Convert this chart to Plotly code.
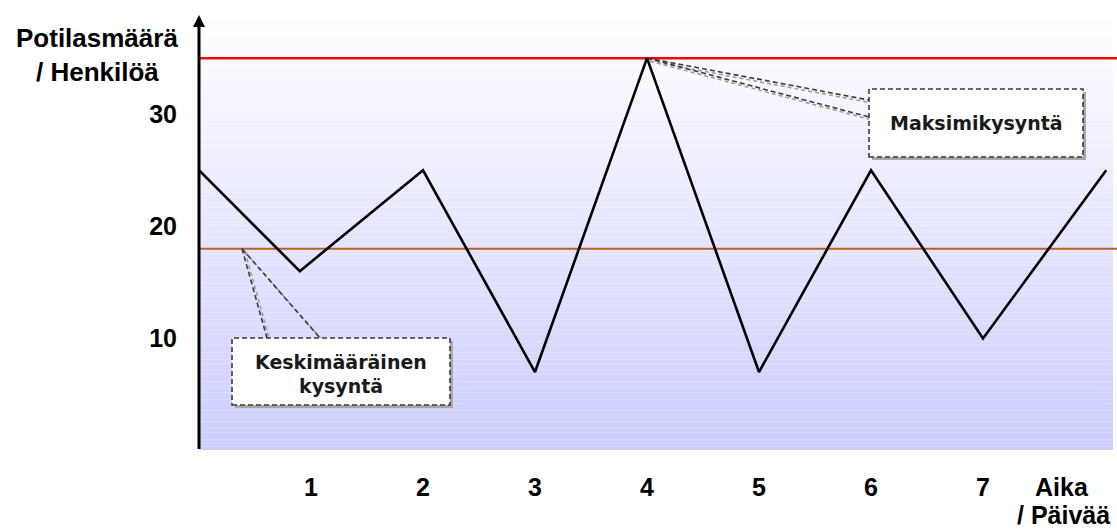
import numpy as np
import plotly.graph_objects as go

# Daily patient counts
days = [0, 0.9, 2, 3, 4, 5, 6, 7, 8.1]
patients = [25, 16, 25, 7, 35, 7, 25, 10, 25]

max_demand = 35
avg_demand = 18

y_tick_vals = [10, 20, 30]
x_tick_vals = [1, 2, 3, 4, 5, 6, 7]

# Layout geometry (pixels)
W, H = 1117, 529
ML, MR, MT, MB = 199, 0, 15, 79
PX_PER_X = 112.0
PX_PER_Y = 11.21
Y0_PX = 450.5  # pixel row of y = 0
x_max = (W - ML - MR) / PX_PER_X
y_lo = -(H - MB - Y0_PX) / PX_PER_Y
y_hi = (Y0_PX - MT) / PX_PER_Y


def dx(px):
    """pixel offset -> x units"""
    return px / PX_PER_X


def dy(px):
    """pixel offset -> y units"""
    return px / PX_PER_Y


def xd(px):
    """absolute pixel column -> x value"""
    return (px - ML) / PX_PER_X


def yd(py):
    """absolute pixel row -> y value"""
    return (Y0_PX - py) / PX_PER_Y


fig = go.Figure()

shapes = []

# vertical white-to-lavender gradient behind the plot
n_strips = 120
top_c = np.array([255, 255, 255])
bot_c = np.array([204, 204, 255])
for i in range(n_strips):
    y0 = y_hi * i / n_strips
    y1 = y_hi * (i + 1) / n_strips
    t = (i + 0.5) / n_strips
    c = bot_c + (top_c - bot_c) * t
    shapes.append(dict(type="rect", xref="x", yref="y", x0=0, x1=x_max - dx(4),
                       y0=y0, y1=y1, line=dict(width=0),
                       fillcolor="rgb(%d,%d,%d)" % tuple(c.round()), layer="below"))

# reference lines
shapes.append(dict(type="line", xref="x", yref="y", x0=0, x1=x_max,
                   y0=max_demand, y1=max_demand, line=dict(color="#ff0000", width=2.5),
                   layer="below"))
shapes.append(dict(type="line", xref="x", yref="y", x0=0, x1=x_max,
                   y0=avg_demand, y1=avg_demand, line=dict(color="#b5651d", width=2),
                   layer="below"))


def callout(tip, base_a, base_b, box):
    """Dashed callout: box (x0, y0, x1, y1) plus a wedge from base points to the tip."""
    out = []
    sx, sy = dx(3), -dy(3)
    bx0, by0, bx1, by1 = box
    # shadows
    out.append(dict(type="rect", xref="x", yref="y", x0=bx0 + sx, x1=bx1 + sx,
                    y0=by0 + sy, y1=by1 + sy, fillcolor="#a8a8a8", line=dict(width=0)))
    for b in (base_a, base_b):
        out.append(dict(type="line", xref="x", yref="y", x0=tip[0] + sx, y0=tip[1] + sy,
                        x1=b[0] + sx, y1=b[1] + sy,
                        line=dict(color="#9a9a9a", width=1.5, dash="4px,3px")))
    out.append(dict(type="rect", xref="x", yref="y", x0=bx0, x1=bx1, y0=by0, y1=by1,
                    fillcolor="white", line=dict(color="#3a3a3a", width=1.6, dash="5px,3px")))
    for b in (base_a, base_b):
        out.append(dict(type="line", xref="x", yref="y", x0=tip[0], y0=tip[1],
                        x1=b[0], y1=b[1],
                        line=dict(color="#3a3a3a", width=1.6, dash="5px,3px")))
    return out


# maximum-demand callout
i_max = int(np.argmax(patients))
max_tip = (days[i_max], max_demand)
mbox = (xd(869), yd(157), xd(1083), yd(89))
shapes += callout(max_tip, (mbox[0], yd(100)), (mbox[0], yd(117)), mbox)

# average-demand callout
avg_tip = (xd(242), avg_demand)
abox = (xd(232), yd(405), xd(450), yd(338))
shapes += callout(avg_tip, (xd(267), abox[3]), (xd(320), abox[3]), abox)

fig.add_trace(go.Scatter(x=days, y=patients, mode="lines",
                         line=dict(color="black", width=2.6), cliponaxis=False,
                         hoverinfo="skip", showlegend=False))

bold_arial = dict(family="Liberation Sans, Arial", size=25, color="black", weight="bold")
title_font = dict(family="Liberation Sans, Arial", size=26, color="black", weight="bold")
callout_font = dict(family="DejaVu Sans", size=19, color="#1a1a1a", weight="bold")

annotations = [
    # axis arrows
    dict(x=0, y=y_hi, ax=0, ay=0, xref="x", yref="y", axref="x", ayref="y",
         text="", showarrow=True, arrowhead=2, arrowsize=0.8, arrowwidth=3,
         arrowcolor="black"),
    dict(x=x_max, y=0, ax=0, ay=0, xref="x", yref="y", axref="x", ayref="y",
         text="", showarrow=True, arrowhead=2, arrowsize=0.8, arrowwidth=3,
         arrowcolor="black"),
    # axis titles
    dict(text="Potilasmäärä", xref="paper", yref="paper", x=0, y=1, xanchor="center",
         yanchor="middle", xshift=97 - ML, yshift=-(38 - MT), showarrow=False, font=title_font),
    dict(text="/ Henkilöä", xref="paper", yref="paper", x=0, y=1, xanchor="center",
         yanchor="middle", xshift=97 - ML, yshift=-(72 - MT), showarrow=False, font=title_font),
    dict(text="Aika", xref="paper", yref="paper", x=0, y=0, xanchor="center",
         yanchor="middle", xshift=1062 - ML, yshift=-(487 - (H - MB)), showarrow=False,
         font=bold_arial),
    dict(text="/ Päivää", xref="paper", yref="paper", x=0, y=0, xanchor="center",
         yanchor="middle", xshift=1063 - ML, yshift=-(515 - (H - MB)), showarrow=False,
         font=bold_arial),
    # callout texts
    dict(text="Maksimikysyntä", xref="x", yref="y", x=(mbox[0] + mbox[2]) / 2,
         y=(mbox[1] + mbox[3]) / 2, showarrow=False, font=callout_font),
    dict(text="Keskimääräinen", xref="x", yref="y", x=(abox[0] + abox[2]) / 2,
         y=yd(362), showarrow=False, font=callout_font),
    dict(text="kysyntä", xref="x", yref="y", x=(abox[0] + abox[2]) / 2,
         y=yd(386), showarrow=False, font=callout_font),
]

fig.update_layout(
    width=W, height=H,
    margin=dict(l=ML, r=MR, t=MT, b=MB, pad=0),
    paper_bgcolor="white", plot_bgcolor="white",
    shapes=shapes, annotations=annotations,
    xaxis=dict(range=[0, x_max], showgrid=False, zeroline=False, showline=False,
               tickvals=x_tick_vals, ticktext=[str(v) for v in x_tick_vals],
               ticks="", ticklabelstandoff=20, tickfont=bold_arial, fixedrange=True),
    yaxis=dict(range=[y_lo, y_hi],
               showgrid=False, zeroline=False, showline=False,
               tickvals=y_tick_vals, ticktext=[str(v) for v in y_tick_vals],
               ticks="", ticklabelstandoff=21, tickfont=bold_arial, fixedrange=True),
    showlegend=False,
)

fig.write_html("out.html", config={"displayModeBar": False})
